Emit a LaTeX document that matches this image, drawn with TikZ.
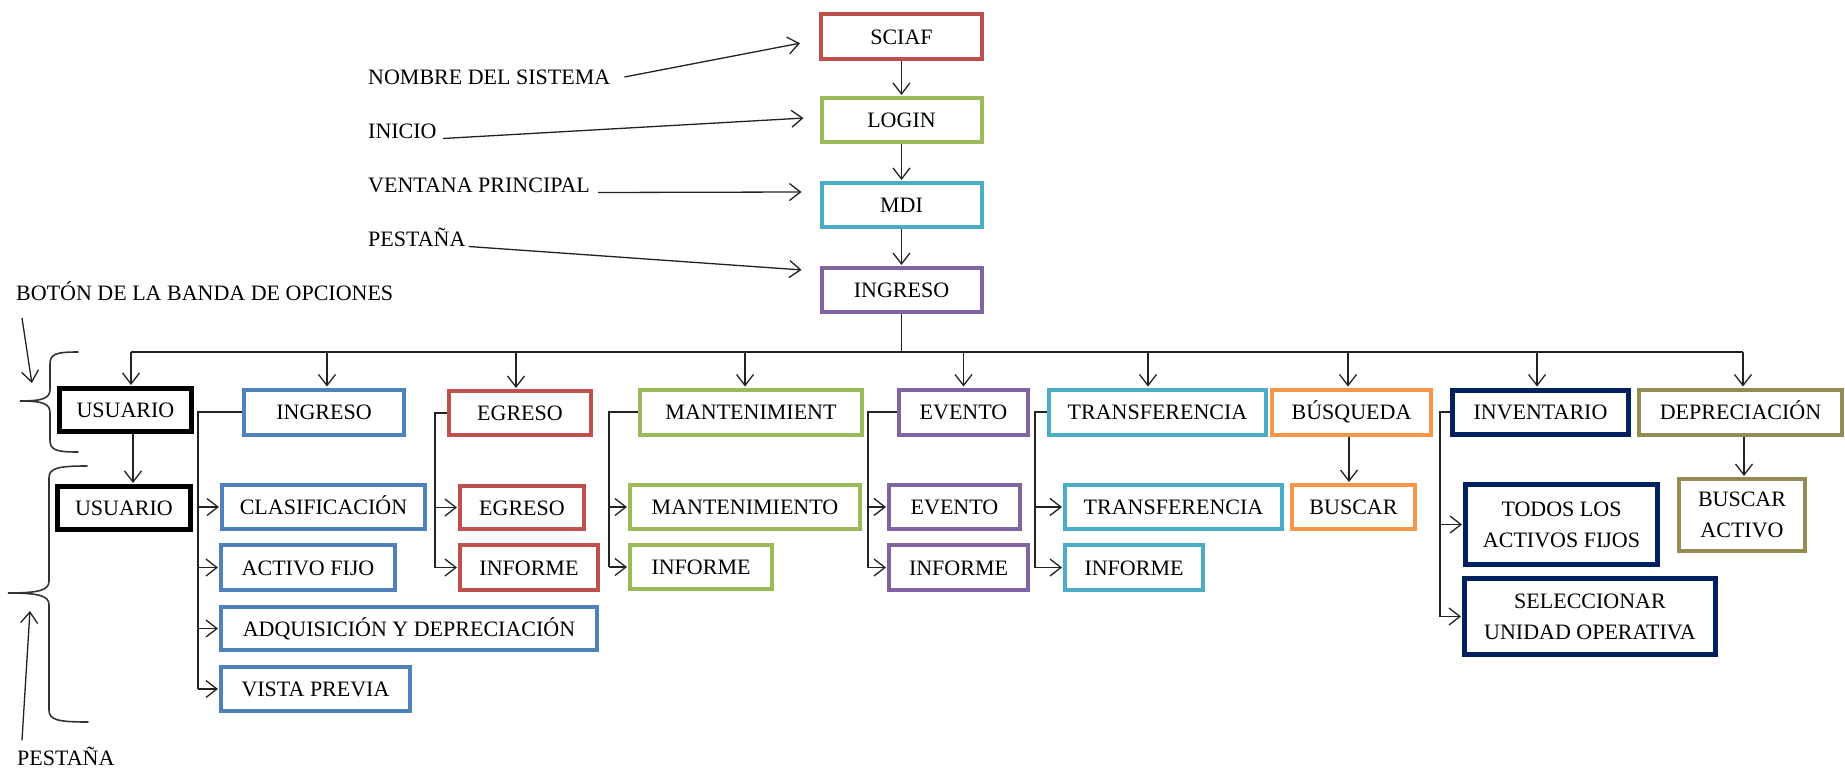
\documentclass[tikz,border=0pt]{standalone}
\usepackage{fontspec}
\setmainfont{Liberation Serif}
\usetikzlibrary{arrows.meta}
\definecolor{cRed}{HTML}{C0504D}
\definecolor{cGreen}{HTML}{9BBB59}
\definecolor{cCyan}{HTML}{4BACC6}
\definecolor{cPurple}{HTML}{8064A2}
\definecolor{cBlue}{HTML}{4F81BD}
\definecolor{cOrange}{HTML}{F79646}
\definecolor{cNavy}{HTML}{002060}
\definecolor{cOlive}{HTML}{948A54}
\definecolor{cInk}{HTML}{222222}
\begin{document}
\begin{tikzpicture}[x=1pt,y=-1pt,
  every node/.style={font=\fontsize{22}{31}\selectfont},
  sz/.style 2 args={minimum width=#1pt, minimum height=#2pt},
  box/.style={draw=#1, line width=4pt, fill=white, inner sep=0pt,
              text height=15pt, text depth=0pt},
  bbox/.style={box=#1, line width=5pt},
  mbox/.style 2 args={draw=#1, line width=#2, fill=white, inner sep=0pt, align=center},
  lbl/.style={anchor=west, inner sep=0pt, text height=15pt, text depth=0pt},
  conn/.style={line width=1.3pt, draw=cInk},
  arr/.style={conn, -{Straight Barb[length=11pt,width=17pt]}, shorten >=1pt},
  brace/.style={line width=1.6pt, draw=black!80, line cap=round},
]
\useasboundingbox (0,0) rectangle (1845,771);

% ---- main chain ----
\node[box=cRed,    sz={161}{45}] (sciaf)  at (901.5,36.5) {SCIAF};
\node[box=cGreen,  sz={160}{44}] (login)  at (901.5,120)  {LOGIN};
\node[box=cCyan,   sz={160}{44}] (mdi)    at (901.5,205)  {MDI};
\node[box=cPurple, sz={160}{44}] (ingtop) at (901.5,290)  {INGRESO};

\draw[arr] (sciaf.south) -- (login.north);
\draw[arr] (login.south) -- (mdi.north);
\draw[arr] (mdi.south) -- (ingtop.north);

% ---- annotations of the chain ----
\node[lbl] (tNombre)  at (368,77)  {NOMBRE DEL SISTEMA};
\node[lbl] (tInicio)  at (368,131) {INICIO};
\node[lbl] (tVentana) at (368,185) {VENTANA PRINCIPAL};
\node[lbl] (tPest)    at (368,239) {PESTAÑA};
\draw[arr] ([xshift=14pt]tNombre.east) -- ([xshift=-18pt,yshift=-6.5pt]sciaf.west);
\draw[arr] ([xshift=6pt]tInicio.base east) -- ([xshift=-15pt,yshift=2pt]login.west);
\draw[arr] ([xshift=8pt]tVentana.base east) -- ([xshift=-17pt,yshift=13pt]mdi.west);
\draw[arr] ([xshift=3pt]tPest.base east) -- ([xshift=-17pt,yshift=20pt]ingtop.west);

% ---- ribbon buttons ----
\node[bbox=black,  sz={132}{43}] (usu1) at (125.5,410) {USUARIO};
\node[box=cBlue,   sz={160}{45}] (ing)  at (324,412)   {INGRESO};
\node[box=cRed,    sz={142}{44}] (egr)  at (520,413)   {EGRESO};
\node[box=cGreen,  sz={222}{45}] (mant) at (751,412)   {MANTENIMIENT};
\node[box=cPurple, sz={129}{45}] (evt)  at (963.5,412) {EVENTO};
\node[box=cCyan,   sz={217}{45}] (trf)  at (1157.5,412) {TRANSFERENCIA};
\node[box=cOrange, sz={159}{45}] (busq) at (1351.5,412) {BÚSQUEDA};
\node[bbox=cNavy,  sz={176}{44}] (inv)  at (1540.5,412) {INVENTARIO};
\node[box=cOlive,  sz={203}{45}] (dep)  at (1740.5,412) {DEPRECIACIÓN};

% ---- bus from INGRESO ----
\coordinate (busL) at (131,352);
\coordinate (busR) at (1743,352);
\draw[conn] (ingtop.south) -- (ingtop.south |- busL);
\draw[conn] (busL) -- (busR);
\draw[arr] (busL) -- (busL |- usu1.north);
\draw[arr] (busR) -- (busR |- dep.north);
\foreach \n/\s in {ing/3,egr/-4,mant/-6,evt/0,trf/-9.5,busq/-3.5,inv/-3.5}
  \draw[arr] ([xshift=\s pt]\n.north |- busL) -- ([xshift=\s pt]\n.north);

% ---- tabs ----
\node[bbox=black,  sz={133}{43}] (usu2)  at (124,508)    {USUARIO};
\node[box=cBlue,   sz={203}{44}] (clas)  at (323.5,507)  {CLASIFICACIÓN};
\node[box=cBlue,   sz={174}{45}] (act)   at (308,567.5)  {ACTIVO FIJO};
\node[box=cBlue,   sz={376}{43}] (adq)   at (409,628.5)  {ADQUISICIÓN Y DEPRECIACIÓN};
\node[box=cBlue,   sz={189}{44}] (vista) at (315.5,689)  {VISTA PREVIA};
\node[box=cRed,    sz={124}{43}] (egr2)  at (522,507.5)  {EGRESO};
\node[box=cRed,    sz={138}{45}] (inf1)  at (529,567.5)  {INFORME};
\node[box=cGreen,  sz={230}{44}] (mant2) at (745,507)    {MANTENIMIENTO};
\node[box=cGreen,  sz={142}{44}] (inf2)  at (701,567)    {INFORME};
\node[box=cPurple, sz={131}{44}] (evt2)  at (954.5,507)  {EVENTO};
\node[box=cPurple, sz={139}{45}] (inf3)  at (958.5,567.5) {INFORME};
\node[box=cCyan,   sz={217}{44}] (trf2)  at (1173.5,507) {TRANSFERENCIA};
\node[box=cCyan,   sz={138}{45}] (inf4)  at (1134,567.5) {INFORME};
\node[box=cOrange, sz={123}{44}] (busc)  at (1353.5,507) {BUSCAR};
\node[mbox={cNavy}{5pt}, sz={192}{80}] (todos) at (1561.5,524.5) {TODOS LOS\\ACTIVOS FIJOS};
\node[mbox={cNavy}{5pt}, sz={251}{76}] (selec) at (1590,616.5) {SELECCIONAR\\UNIDAD OPERATIVA};
\node[mbox={cOlive}{4pt}, sz={126}{72}] (bact) at (1742,515) {BUSCAR\\ACTIVO};

% ---- vertical links ----
\draw[arr] ([xshift=7.5pt]usu1.south) -- ([xshift=7.5pt]usu1.south |- usu2.north);
\draw[arr] ([xshift=-2.5pt]busq.south) -- ([xshift=-2.5pt]busq.south |- busc.north);
\draw[arr] ([xshift=3.5pt]dep.south) -- ([xshift=3.5pt]dep.south |- bact.north);

% ---- elbow branches ----
\coordinate (s1) at (198,0);
\coordinate (s2) at (435,0);
\coordinate (s3) at (609,0);
\coordinate (s4) at (868,0);
\coordinate (s5) at (1035,0);
\coordinate (s6) at (1440,0);
\draw[conn] (ing.west)  -| (s1 |- vista.west);
\draw[conn] (egr.west)  -| (s2 |- inf1.west);
\draw[conn] (mant.west) -| (s3 |- inf2.west);
\draw[conn] (evt.west)  -| (s4 |- inf3.west);
\draw[conn] (trf.west)  -| (s5 |- inf4.west);
\draw[conn] (inv.west)  -| (s6 |- selec.west);
\foreach \s/\c in {s1/clas,s1/act,s1/adq,s1/vista,s2/egr2,s2/inf1,s3/mant2,s3/inf2,
                   s4/evt2,s4/inf3,s5/trf2,s5/inf4,s6/todos,s6/selec}
  \draw[arr] (\s |- \c.west) -- (\c.west);

% ---- braces and their labels ----
\draw[brace] (78,352) .. controls (56,352) and (50,354) .. (50,364) -- (50,389)
  .. controls (50,398) and (44,401) .. (20,401)
  .. controls (44,401) and (50,404) .. (50,413) -- (50,440)
  .. controls (50,450) and (56,452) .. (78,452);
\draw[brace] (87,466) .. controls (58,466) and (49,468) .. (49,478) -- (49,581)
  .. controls (49,590) and (40,593) .. (8,593)
  .. controls (40,593) and (49,596) .. (49,605) -- (49,710)
  .. controls (49,720) and (58,722) .. (88,722);

\node[lbl] (tBoton) at (16,293) {BOTÓN DE LA BANDA DE OPCIONES};
\node[lbl] (tPest2) at (17,758) {PESTAÑA};
\coordinate (botonTip) at (32,384);
\coordinate (pestTip) at (30,610);
\draw[arr] ([xshift=6pt,yshift=-25pt]tBoton.west) -- (botonTip);
\draw[arr] ([xshift=5pt,yshift=10pt]tPest2.north west) -- (pestTip);
\end{tikzpicture}
\end{document}
